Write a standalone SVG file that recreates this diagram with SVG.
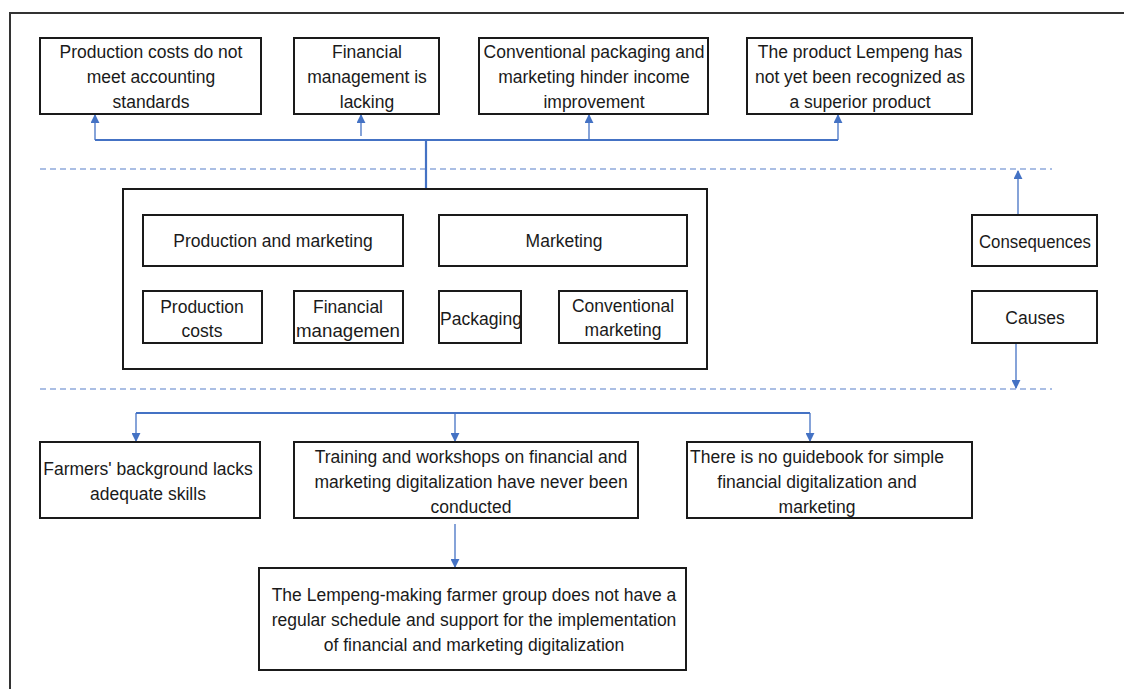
<svg xmlns="http://www.w3.org/2000/svg" width="1124" height="689" viewBox="0 0 1124 689">
  <style>
    .box { fill: #ffffff; stroke: #1a1a1a; stroke-width: 2; }
    .frame { fill: none; stroke: #333333; stroke-width: 2; }
    .lbl { font-family: "Liberation Sans", "Open Sans", sans-serif; font-size: 17.5px; fill: #1a1a1a; text-anchor: middle; }
    .link { fill: none; stroke: #4472C4; stroke-width: 2.2; }
    .thin { fill: none; stroke: #4472C4; stroke-width: 1.3; }
    .dash { fill: none; stroke: #8EA9DB; stroke-width: 1.3; stroke-dasharray: 6 4; }
  </style>
  <defs>
    <marker id="arr" viewBox="0 0 10 10" refX="9" refY="5" markerWidth="9" markerHeight="9" markerUnits="userSpaceOnUse" orient="auto">
      <path d="M0,0 L10,5 L0,10 z" fill="#4472C4"/>
    </marker>
  </defs>
  <rect width="1124" height="689" fill="#ffffff"/>
  <rect class="frame" x="10" y="13" width="1200" height="800"/>

  <!-- section dividers -->
  <g id="dividers">
    <line class="dash" x1="40" y1="169" x2="1052" y2="169"/>
    <line class="dash" x1="40" y1="389" x2="1052" y2="389"/>
  </g>

  <g id="connectors">
    <!-- consequences fan-out -->
    <polyline class="link" points="95,140 838,140"/>
    <line class="link" x1="426" y1="140" x2="426" y2="189"/>
    <line class="thin" x1="95" y1="140" x2="95" y2="115" marker-end="url(#arr)"/>
    <line class="thin" x1="361" y1="136" x2="361" y2="115" marker-end="url(#arr)"/>
    <line class="thin" x1="589" y1="140" x2="589" y2="115" marker-end="url(#arr)"/>
    <line class="thin" x1="838" y1="140" x2="838" y2="115" marker-end="url(#arr)"/>
    <!-- core problem breakdown -->
    <line class="thin" x1="196" y1="267" x2="196" y2="290" marker-end="url(#arr)"/>
    <line class="thin" x1="342" y1="267" x2="342" y2="290" marker-end="url(#arr)"/>
    <line class="thin" x1="476" y1="267" x2="476" y2="290" marker-end="url(#arr)"/>
    <line class="thin" x1="614" y1="267" x2="614" y2="290" marker-end="url(#arr)"/>
    <!-- legend arrows -->
    <line class="thin" x1="1018" y1="214" x2="1018" y2="171" marker-end="url(#arr)"/>
    <line class="thin" x1="1016" y1="344" x2="1016" y2="388" marker-end="url(#arr)"/>
    <!-- causes fan-out -->
    <polyline class="link" points="136,413 810,413"/>
    <line class="thin" x1="136" y1="413" x2="136" y2="441" marker-end="url(#arr)"/>
    <line class="thin" x1="455" y1="413" x2="455" y2="441" marker-end="url(#arr)"/>
    <line class="thin" x1="810" y1="413" x2="810" y2="441" marker-end="url(#arr)"/>
    <line class="thin" x1="455" y1="524" x2="455" y2="567" marker-end="url(#arr)"/>
  </g>

  <!-- consequences -->
  <g id="c1">
    <rect class="box" x="40" y="38" width="221" height="76"/>
    <text class="lbl" x="151" y="58">Production costs do not</text>
    <text class="lbl" x="151" y="83">meet accounting</text>
    <text class="lbl" x="151" y="108">standards</text>
  </g>
  <g id="c2">
    <rect class="box" x="294" y="38" width="145" height="76"/>
    <text class="lbl" x="367" y="58">Financial</text>
    <text class="lbl" x="367" y="83">management is</text>
    <text class="lbl" x="367" y="108">lacking</text>
  </g>
  <g id="c3">
    <rect class="box" x="479" y="38" width="229" height="76"/>
    <text class="lbl" x="594" y="58">Conventional packaging and</text>
    <text class="lbl" x="594" y="83">marketing hinder income</text>
    <text class="lbl" x="594" y="108">improvement</text>
  </g>
  <g id="c4">
    <rect class="box" x="747" y="38" width="225" height="76"/>
    <text class="lbl" x="860" y="58">The product Lempeng has</text>
    <text class="lbl" x="860" y="83">not yet been recognized as</text>
    <text class="lbl" x="860" y="108">a superior product</text>
  </g>

  <!-- core problem -->
  <g id="core">
    <rect class="box" x="123" y="189" width="584" height="180"/>
  </g>
  <g id="prod-mkt">
    <rect class="box" x="143" y="215" width="260" height="51"/>
    <text class="lbl" x="273" y="247">Production and marketing</text>
  </g>
  <g id="mkt">
    <rect class="box" x="439" y="215" width="248" height="51"/>
    <text class="lbl" x="564" y="247">Marketing</text>
  </g>
  <g id="prod-costs">
    <rect class="box" x="143" y="291" width="119" height="52"/>
    <text class="lbl" x="202" y="313">Production</text>
    <text class="lbl" x="202" y="337">costs</text>
  </g>
  <g id="fin-mgmt">
    <rect class="box" x="294" y="291" width="109" height="52"/>
    <text class="lbl" x="348" y="313">Financial</text>
    <text class="lbl" x="348" y="337" textLength="104" lengthAdjust="spacingAndGlyphs">managemen</text>
  </g>
  <g id="packaging">
    <rect class="box" x="439" y="291" width="82" height="52"/>
    <text class="lbl" x="481" y="325" textLength="82" lengthAdjust="spacingAndGlyphs">Packaging</text>
  </g>
  <g id="conv-mkt">
    <rect class="box" x="559" y="291" width="128" height="52"/>
    <text class="lbl" x="623" y="312">Conventional</text>
    <text class="lbl" x="623" y="336">marketing</text>
  </g>

  <!-- legend -->
  <g id="consequences">
    <rect class="box" x="972" y="215" width="125" height="51"/>
    <text class="lbl" x="1035" y="248" textLength="112" lengthAdjust="spacingAndGlyphs">Consequences</text>
  </g>
  <g id="causes">
    <rect class="box" x="972" y="291" width="125" height="52"/>
    <text class="lbl" x="1035" y="324">Causes</text>
  </g>

  <!-- causes -->
  <g id="k1">
    <rect class="box" x="40" y="442" width="220" height="76"/>
    <text class="lbl" x="148" y="475">Farmers' background lacks</text>
    <text class="lbl" x="148" y="500">adequate skills</text>
  </g>
  <g id="k2">
    <rect class="box" x="294" y="442" width="344" height="76"/>
    <text class="lbl" x="471" y="463">Training and workshops on financial and</text>
    <text class="lbl" x="471" y="488">marketing digitalization have never been</text>
    <text class="lbl" x="471" y="513">conducted</text>
  </g>
  <g id="k3">
    <rect class="box" x="687" y="442" width="285" height="76"/>
    <text class="lbl" x="817" y="463">There is no guidebook for simple</text>
    <text class="lbl" x="817" y="488">financial digitalization and</text>
    <text class="lbl" x="817" y="513">marketing</text>
  </g>
  <g id="k4">
    <rect class="box" x="259" y="568" width="427" height="102"/>
    <text class="lbl" x="474" y="601">The Lempeng-making farmer group does not have a</text>
    <text class="lbl" x="474" y="626">regular schedule and support for the implementation</text>
    <text class="lbl" x="474" y="651">of financial and marketing digitalization</text>
  </g>
</svg>
